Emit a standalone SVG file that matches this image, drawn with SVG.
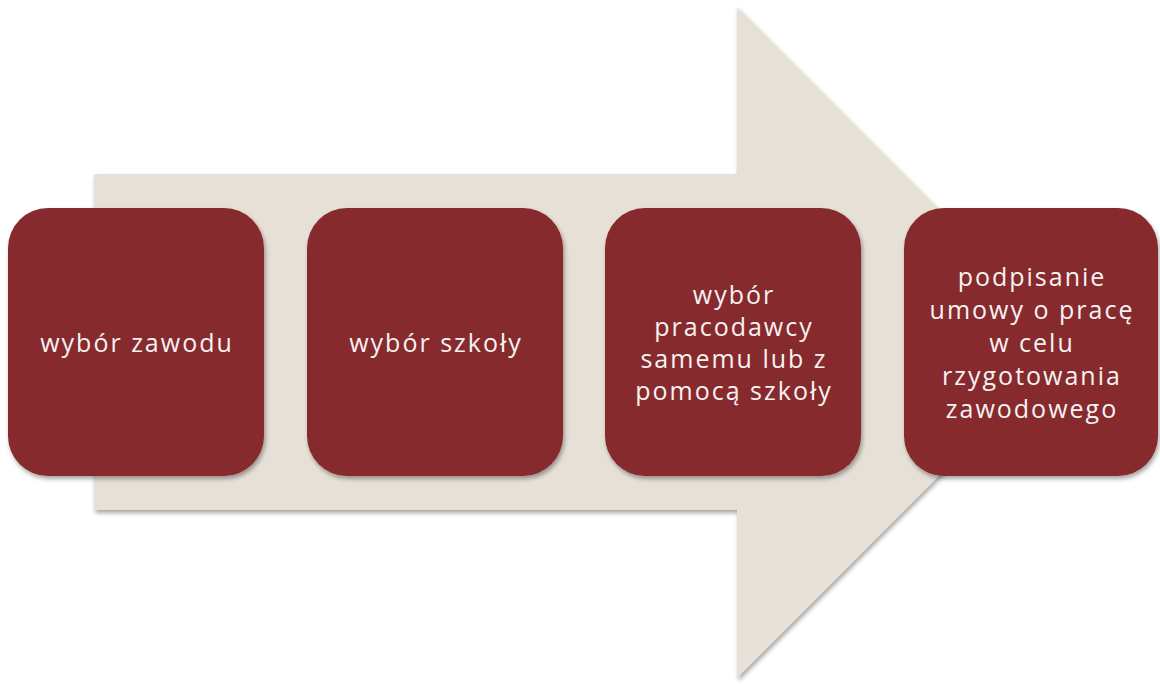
<svg xmlns="http://www.w3.org/2000/svg" width="1160" height="684" viewBox="0 0 1160 684">
<defs>
<filter id="sh" x="-10%" y="-10%" width="120%" height="120%">
<feDropShadow dx="1.5" dy="3" stdDeviation="2" flood-color="#000" flood-opacity="0.35"/>
</filter>
<style>
.box{fill:#862C2E;filter:url(#sh)}
.lbl{fill:#F7F2F2;font-family:"Open Sans","Noto Sans",sans-serif;font-size:25px;text-anchor:middle;letter-spacing:2px}
</style>
</defs>
<rect width="1160" height="684" fill="#FFFFFF"/>
<g id="arrow">
<path d="M94 174 H737 V7 L1072 342.5 L737 678 V510 H94 Z" fill="#E7E0D7" filter="url(#sh)"/>
</g>
<g id="connectors"></g>
<g id="node1">
<rect class="box" x="8" y="208" width="256" height="268" rx="40"/>
<text class="lbl" x="137" y="352">wybór zawodu</text>
</g>
<g id="node2">
<rect class="box" x="307" y="208" width="256" height="268" rx="40"/>
<text class="lbl" x="436" y="352">wybór szkoły</text>
</g>
<g id="node3">
<rect class="box" x="605" y="208" width="256" height="268" rx="40"/>
<text class="lbl" x="734" y="304">wybór</text>
<text class="lbl" x="734" y="336">pracodawcy</text>
<text class="lbl" x="734" y="368">samemu lub z</text>
<text class="lbl" x="734" y="400">pomocą szkoły</text>
</g>
<g id="node4">
<rect class="box" x="904" y="208" width="254" height="268" rx="40"/>
<text class="lbl" x="1032" y="286">podpisanie</text>
<text class="lbl" x="1032" y="319">umowy o pracę</text>
<text class="lbl" x="1032" y="352">w celu</text>
<text class="lbl" x="1032" y="385">rzygotowania</text>
<text class="lbl" x="1032" y="418">zawodowego</text>
</g>
</svg>
